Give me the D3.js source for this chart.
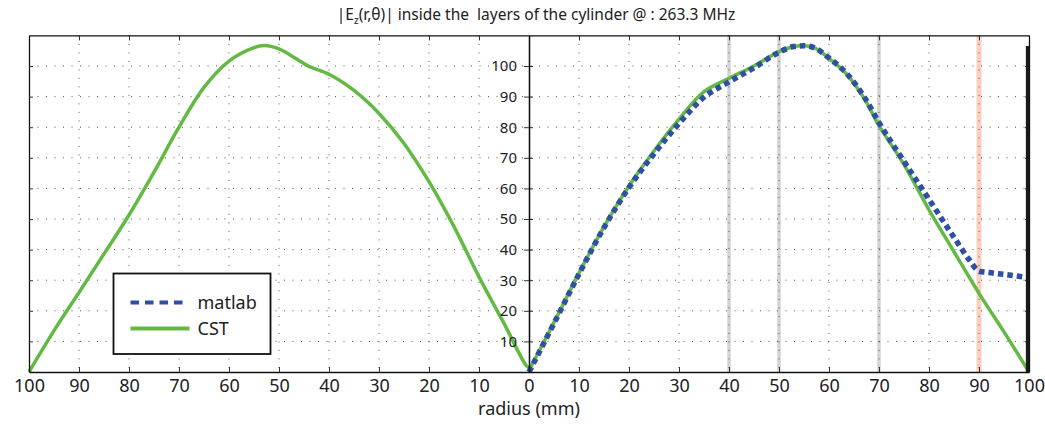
<!DOCTYPE html>
<html>
<head>
<meta charset="utf-8">
<script src="https://cdn.jsdelivr.net/npm/d3@7"></script>
<style>
  html, body { margin: 0; padding: 0; background: #fff; }
  svg { display: block; font-family: "Noto Sans", "DejaVu Sans", sans-serif; }
</style>
</head>
<body>
<script>
// left half: CST only (radius read from right to left)
const radiusLeft = [100, 95, 90, 85, 80, 75, 70, 65, 60, 55, 53, 50, 47, 44, 40, 35, 30, 25, 20, 15, 10, 5, 0.5, 0];
const cstLeft = [0, 13.5, 26, 38.6, 51.3, 65.3, 80, 93, 101.6, 106, 106.7, 105.6, 102.8, 99.9, 97.3, 92, 84.5, 74.7, 62.2, 47.5, 31.1, 15.9, 2, 1.5];

// right half
const radiusRight = [0, 5, 10, 15, 20, 25, 30, 35, 40, 45, 50, 53, 55, 57, 60, 63.5, 67, 70, 75, 80, 85, 90, 95, 100];
const cstRight = [0.5, 16.2, 32.3, 47.5, 60.8, 72.2, 82.6, 91.6, 96, 100, 104.7, 106.4, 106.6, 106, 102.5, 97.4, 89.5, 80.5, 67.8, 53, 39.3, 25.7, 13.1, 0];

const radiusMatlab = [0, 5, 10, 15, 20, 25, 30, 35, 40, 45, 50, 53, 55, 57, 60, 63.5, 67, 70, 75, 77.5, 80, 85, 88, 90, 92, 95, 100];
const matlab = [0, 15.9, 32, 47.2, 60.3, 71.3, 81.2, 89.8, 94.8, 99.4, 104.5, 106.4, 106.6, 106, 102.6, 97.6, 90, 81.5, 68.8, 62.6, 56.4, 44, 36.8, 33, 32.5, 31.9, 30.8];

// layer boundaries (mm)
const layerLines = [40, 50, 70];
const outerLayer = [90];

const xTicks = d3.range(-100, 101, 10);
const yTicks = d3.range(10, 101, 10);
const legendNames = ["matlab", "CST"];

const W = 1045, H = 425;
const svg = d3.select("body").append("svg")
  .attr("width", W)
  .attr("height", H);

const x = d3.scaleLinear().domain([-100, 100]).range([29, 1029]);
const y = d3.scaleLinear().domain([0, 110]).range([372, 35.4]);

// layer bands
svg.selectAll(".band")
  .data(layerLines)
  .enter()
  .append("line")
  .attr("x1", (d) => x(d)).attr("x2", (d) => x(d))
  .attr("y1", y(110)).attr("y2", y(0))
  .style("stroke", "#d3d3d3")
  .style("stroke-width", 3.5);

svg.selectAll(".band2")
  .data(outerLayer)
  .enter()
  .append("line")
  .attr("x1", (d) => x(d)).attr("x2", (d) => x(d))
  .attr("y1", y(110)).attr("y2", y(0))
  .style("stroke", "#fbd0bf")
  .style("stroke-width", 5);

// grid
const grid = svg.append("g").attr("class", "grid");
grid.selectAll(".vg")
  .data(xTicks.filter((d) => Math.abs(d) != 100 && d != 0))
  .enter()
  .append("line")
  .attr("x1", (d) => x(d)).attr("x2", (d) => x(d))
  .attr("y1", y(110)).attr("y2", y(0))
  .style("stroke", "#555")
  .style("stroke-width", 1)
  .style("stroke-dasharray", "1,7.5");

grid.selectAll(".hg")
  .data(yTicks)
  .enter()
  .append("line")
  .attr("x1", x(-100)).attr("x2", x(100))
  .attr("y1", (d) => y(d)).attr("y2", (d) => y(d))
  .style("stroke", "#555")
  .style("stroke-width", 1)
  .style("stroke-dasharray", "1,7.5");

// curves
const smooth = d3.line()
  .x((d) => x(d[0]))
  .y((d) => y(d[1]))
  .curve(d3.curveCatmullRom.alpha(0.5));

const mono = d3.line()
  .x((d) => x(d[0]))
  .y((d) => y(d[1]))
  .curve(d3.curveMonotoneX);

const leftPts = radiusLeft.map((r, i) => [-r, cstLeft[i]]);
const rightPts = radiusRight.map((r, i) => [r, cstRight[i]]);
const matlabPts = radiusMatlab.map((r, i) => [r, matlab[i]]);

svg.append("path")
  .attr("d", smooth(leftPts))
  .style("fill", "none")
  .style("stroke", "#63b944")
  .style("stroke-width", 3.5);

svg.append("path")
  .attr("d", smooth(rightPts))
  .style("fill", "none")
  .style("stroke", "#63b944")
  .style("stroke-width", 3.5);

svg.append("path")
  .attr("d", mono(matlabPts))
  .style("fill", "none")
  .style("stroke", "#2f4fa2")
  .style("stroke-width", 5.5)
  .style("stroke-dasharray", "5.5,4");

// axes
function styleAxis(g) {
  g.selectAll("path.domain").style("stroke", "#111").style("stroke-width", 1.3);
  g.selectAll(".tick line").style("stroke", "#333").style("stroke-width", 1);
}

const bottom = svg.append("g")
  .attr("transform", `translate(0,${y(0)})`)
  .call(d3.axisBottom(x).tickValues(xTicks).tickFormat((d) => Math.abs(d))
    .tickSizeInner(-5).tickSizeOuter(0).tickPadding(7))
  .call(styleAxis);
bottom.selectAll("text")
  .style("font-size", "18px")
  .style("fill", "#222")
  .style("font-family", "'Noto Sans', sans-serif");

svg.append("g")
  .attr("transform", `translate(0,${y(110)})`)
  .call(d3.axisTop(x).tickValues(xTicks).tickFormat("")
    .tickSizeInner(-5).tickSizeOuter(0))
  .call(styleAxis);

svg.append("g")
  .attr("transform", `translate(${x(-100)},0)`)
  .call(d3.axisRight(y).tickValues(yTicks).tickFormat("")
    .tickSizeInner(4).tickSizeOuter(0))
  .call(styleAxis);

svg.append("g")
  .attr("transform", `translate(${x(100)},0)`)
  .call(d3.axisLeft(y).tickValues(yTicks).tickFormat("")
    .tickSizeInner(4).tickSizeOuter(0))
  .call(styleAxis);

svg.append("g")
  .attr("transform", `translate(${x(0)},0)`)
  .call(d3.axisRight(y).tickValues(yTicks).tickFormat("")
    .tickSizeInner(4).tickSizeOuter(0))
  .call(styleAxis);

const center = svg.append("g")
  .attr("transform", `translate(${x(0)},0)`)
  .call(d3.axisLeft(y).tickValues(yTicks)
    .tickSizeInner(5).tickSizeOuter(0).tickPadding(7))
  .call(styleAxis);
center.selectAll("text")
  .style("font-size", "15px")
  .style("fill", "#222")
  .style("font-family", "'Noto Sans', sans-serif");

// heavy right edge
svg.append("line")
  .attr("x1", x(100) - 1.5).attr("x2", x(100) - 1.5)
  .attr("y1", y(106.5)).attr("y2", y(0))
  .style("stroke", "#1a1a1a")
  .style("stroke-width", 3.3);

// legend
const legend = svg.append("g").attr("transform", "translate(113.5,273.5)");
legend.append("rect")
  .attr("width", 157)
  .attr("height", 80.5)
  .style("fill", "#fff")
  .style("stroke", "#111")
  .style("stroke-width", 1.8);

const legendStyle = {
  matlab: { color: "#2f4fa2", width: 4, dash: "8.5,6", len: 52 },
  CST: { color: "#63b944", width: 4, dash: null, len: 59 }
};

const items = legend.selectAll(".item")
  .data(legendNames)
  .enter()
  .append("g")
  .attr("transform", (d, i) => `translate(0,${29 + i * 26})`);

items.append("line")
  .attr("x1", 17)
  .attr("x2", (d) => 17 + legendStyle[d].len)
  .style("stroke", (d) => legendStyle[d].color)
  .style("stroke-width", (d) => legendStyle[d].width)
  .style("stroke-dasharray", (d) => legendStyle[d].dash);

items.append("text")
  .attr("x", 84)
  .attr("dy", "0.36em")
  .style("font-size", "18px")
  .style("fill", "#222")
  .text((d) => d);

// title
const title = svg.append("text")
  .attr("x", 536)
  .attr("y", 20)
  .attr("text-anchor", "middle")
  .style("font-size", "15.5px")
  .style("fill", "#222")
  .style("white-space", "pre");
title.append("tspan").text("|E");
title.append("tspan").attr("dy", 4).style("font-size", "10px").text("z");
title.append("tspan").attr("dy", -4).text("(r,θ)| inside the  layers of the cylinder @ : 263.3 MHz");

// x label
svg.append("text")
  .attr("x", x(0))
  .attr("y", 415)
  .attr("text-anchor", "middle")
  .style("font-size", "18px")
  .style("fill", "#222")
  .text("radius (mm)");
</script>
</body>
</html>
